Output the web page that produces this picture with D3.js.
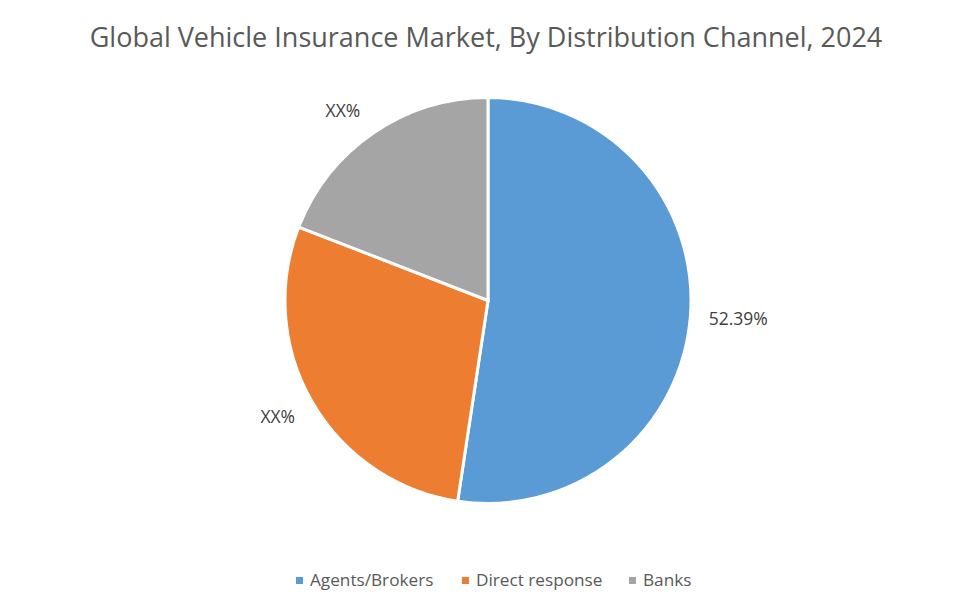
<!DOCTYPE html>
<html>
<head>
<meta charset="utf-8">
<script src="https://cdn.jsdelivr.net/npm/d3@7"></script>
<style>
html, body { margin: 0; padding: 0; background: #fff; }
text { font-family: "Open Sans", sans-serif; }
</style>
</head>
<body>
<script>
const w = 964;
const h = 600;

const title = "Global Vehicle Insurance Market, By Distribution Channel, 2024";
const categories = ["Agents/Brokers", "Direct response", "Banks"];
const values = [52.39, 28.5, 19.11];
const labels = ["52.39%", "XX%", "XX%"];
const colors = ["#5b9bd5", "#ed7d31", "#a5a5a5"];

const cx = 488, cy = 300.5, radius = 203;

const svg = d3.select("body").append("svg")
    .attr("width", w)
    .attr("height", h)
    .style("display", "block");

//title
svg.append("text")
    .attr("x", 486)
    .attr("y", 47)
    .attr("text-anchor", "middle")
    .attr("font-size", 27)
    .attr("fill", "#595959")
    .text(title);

//slices
const pie = d3.pie().sort(null).value(d => d);
const arc = d3.arc().innerRadius(0).outerRadius(radius);
const slices = pie(values);

const g = svg.append("g")
    .attr("transform", "translate(" + cx + "," + cy + ")");

g.selectAll("path")
    .data(slices)
    .enter()
    .append("path")
    .attr("d", arc)
    .attr("fill", (d, i) => colors[i])
    .attr("stroke", "#fff")
    .attr("stroke-width", 3);

//outside labels
const labelR = [251, 250, 232];
const labelDx = [0, 6, -14];
const labelDy = [6, -3, 8];
const labelPos = (d, i) => d3.arc().innerRadius(labelR[i]).outerRadius(labelR[i]).centroid(d);
g.selectAll("text")
    .data(slices)
    .enter()
    .append("text")
    .attr("x", (d, i) => labelPos(d, i)[0] + labelDx[i])
    .attr("y", (d, i) => labelPos(d, i)[1] + labelDy[i])
    .attr("text-anchor", "middle")
    .attr("font-size", 17.5)
    .attr("fill", "#404040")
    .text((d, i) => labels[i]);

//legend
const legendX = [296, 462, 629];
const legend = svg.append("g")
    .selectAll("g")
    .data(categories)
    .enter()
    .append("g")
    .attr("transform", (d, i) => "translate(" + legendX[i] + ",580)");
legend.append("rect")
    .attr("x", 0)
    .attr("y", -3)
    .attr("width", 7)
    .attr("height", 7)
    .attr("fill", (d, i) => colors[i]);
legend.append("text")
    .attr("x", 14)
    .attr("y", 6)
    .attr("font-size", 17.2)
    .attr("fill", "#595959")
    .text(d => d);
</script>
</body>
</html>
